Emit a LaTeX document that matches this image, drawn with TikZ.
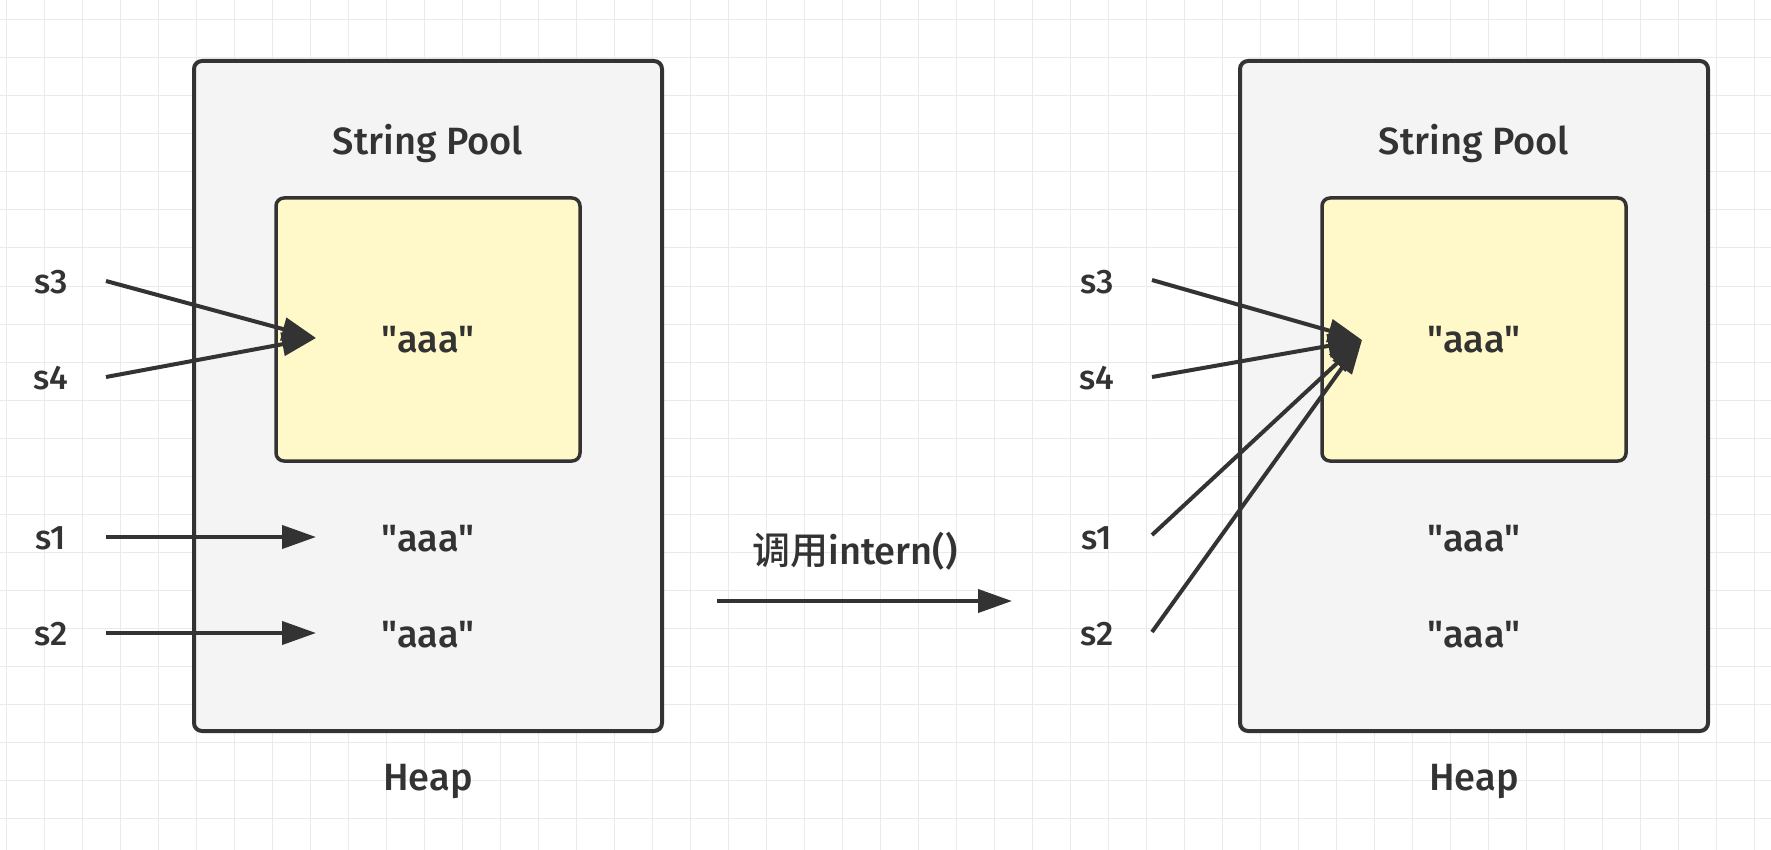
\documentclass[tikz,border=0pt]{standalone}
\usepackage{fontspec}
\setmainfont{Fira Sans}[UprightFont=* Medium, BoldFont=* SemiBold]
\newfontfamily\cjk{Noto Sans CJK SC}[UprightFont=* Medium]
\usetikzlibrary{arrows.meta}

\definecolor{ink}{HTML}{333333}
\definecolor{heapfill}{HTML}{F4F4F4}
\definecolor{poolfill}{HTML}{FFF8C8}
\definecolor{gridline}{HTML}{EAEAEA}

\newcommand{\strlit}[1]{\textquotedbl#1\textquotedbl}

\tikzset{
  heapbox/.style={draw=ink, fill=heapfill, line width=4pt, rounded corners=8pt,
    minimum width=468pt, minimum height=670pt, inner sep=0pt},
  poolbox/.style={draw=ink, fill=poolfill, line width=3.5pt, rounded corners=8pt,
    minimum width=304pt, minimum height=263pt, inner sep=0pt},
  bigtext/.style={text=ink, font=\fontsize{38}{42}\selectfont, inner sep=0pt},
  reflabel/.style={text=ink, font=\fontsize{34}{38}\selectfont, inner sep=0pt},
  steptext/.style={text=ink, font=\fontsize{38}{42}\selectfont, inner sep=0pt},
  ptr/.style={draw=ink, line width=4pt,
    -{Triangle[length=34pt,width=23pt]}},
}

\begin{document}
\begin{tikzpicture}[x=1pt,y=-1pt]
  \useasboundingbox (0,0) rectangle (1771,850);
  \fill[white] (0,0) rectangle (1771,850);

  % background grid
  \foreach \i in {0,...,46}
    \draw[gridline, line width=1pt] (6.7+38*\i,0) -- (6.7+38*\i,850);
  \foreach \j in {0,...,22}
    \draw[gridline, line width=1pt] (0,20+38*\j) -- (1771,20+38*\j);

  % ---- before intern() ----
  \node[heapbox] (heapL) at (428,396) {};
  \node[poolbox] (poolL) at (428,329.5) {};
  \node[bigtext] (titleL) at (428,144) {String Pool};
  \node[bigtext] (pooledL) at (428,340) {\strlit{aaa}};
  \node[bigtext] (objAL) at (428,539) {\strlit{aaa}};
  \node[bigtext] (objBL) at (428,635) {\strlit{aaa}};
  \node[bigtext] (heapnameL) at (428,782) {Heap};

  \node[reflabel] (s3L) at (51,282) {s3};
  \node[reflabel] (s4L) at (51,378) {s4};
  \node[reflabel] (s1L) at (51,538) {s1};
  \node[reflabel] (s2L) at (51,634) {s2};

  \coordinate (s3La) at (106,281);
  \coordinate (s4La) at (106,377);
  \coordinate (s1La) at (106,537);
  \coordinate (s2La) at (106,633);
  \coordinate (tipPoolL) at (316,338);
  \coordinate (tipAL) at (316,537);
  \coordinate (tipBL) at (316,633);

  \draw[ptr] (s3La) -- (tipPoolL);
  \draw[ptr] (s4La) -- (tipPoolL);
  \draw[ptr] (s1La) -- (tipAL);
  \draw[ptr] (s2La) -- (tipBL);

  % ---- transition ----
  \coordinate (stepFrom) at (717,601);
  \coordinate (stepTo) at (1012,601);
  \draw[ptr] (stepFrom) -- (stepTo);
  \node[steptext] (stepLabel) at (855,551) {{\cjk 调用}intern()};

  % ---- after intern() ----
  \node[heapbox] (heapR) at (1474,396) {};
  \node[poolbox] (poolR) at (1474,329.5) {};
  \node[bigtext] (titleR) at (1474,144) {String Pool};
  \node[bigtext] (pooledR) at (1474,340) {\strlit{aaa}};
  \node[bigtext] (objAR) at (1474,539) {\strlit{aaa}};
  \node[bigtext] (objBR) at (1474,635) {\strlit{aaa}};
  \node[bigtext] (heapnameR) at (1474,782) {Heap};

  \node[reflabel] (s3R) at (1097,282) {s3};
  \node[reflabel] (s4R) at (1097,378) {s4};
  \node[reflabel] (s1R) at (1097,538) {s1};
  \node[reflabel] (s2R) at (1097,634) {s2};

  \coordinate (s3Ra) at (1152,280);
  \coordinate (s4Ra) at (1152,377);
  \coordinate (s1Ra) at (1152,535);
  \coordinate (s2Ra) at (1152,632);
  \coordinate (tipPoolR) at (1362,340);

  \draw[ptr] (s3Ra) -- (tipPoolR);
  \draw[ptr] (s4Ra) -- (tipPoolR);
  \draw[ptr] (s1Ra) -- (tipPoolR);
  \draw[ptr] (s2Ra) -- (tipPoolR);
\end{tikzpicture}
\end{document}
